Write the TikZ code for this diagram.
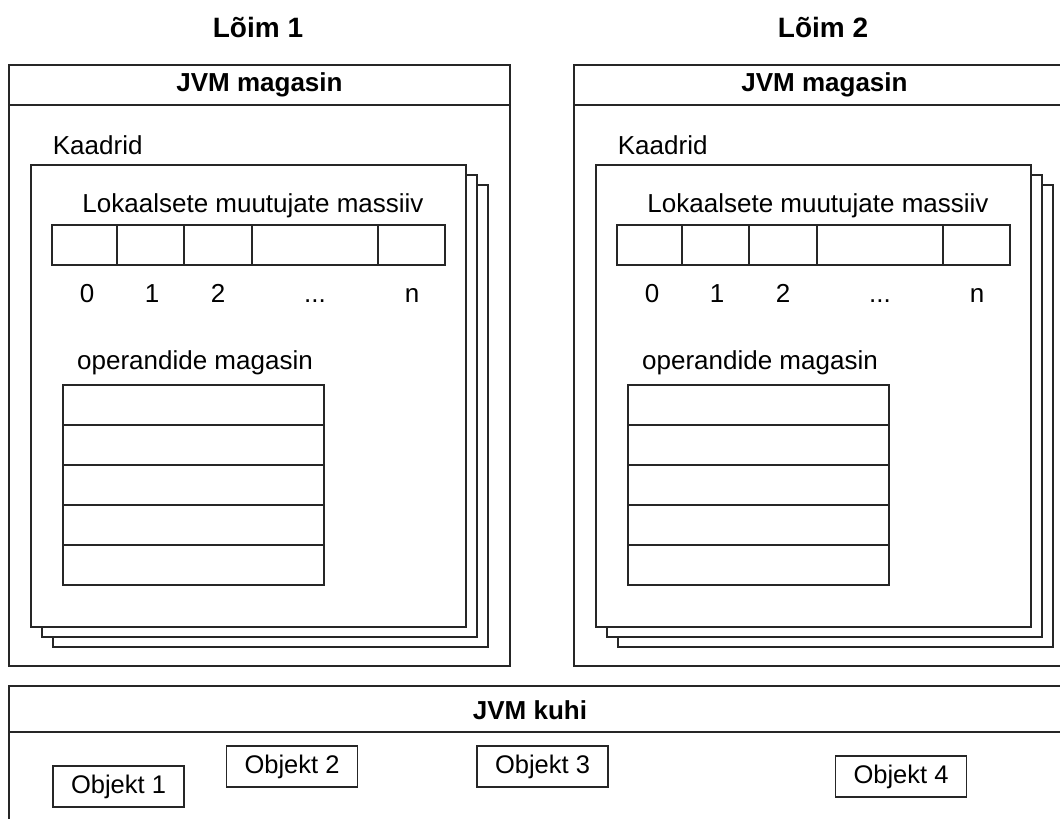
\documentclass[tikz,border=0pt]{standalone}
\usepackage{fontspec}
\setmainfont{Liberation Sans}
\begin{document}
\begin{tikzpicture}[x=1pt,y=-1pt,
  line width=1.8pt,
  box/.style={draw=black!85, fill=white, line width=1.8pt},
  lbl/.style={inner sep=0pt, font=\fontsize{26}{31}\selectfont},
  hdr/.style={inner sep=0pt, font=\fontsize{26}{31}\selectfont\bfseries},
  ttl/.style={inner sep=0pt, font=\fontsize{28}{33}\selectfont\bfseries},
  obj/.style={draw=black!85, line width=1.8pt, fill=white, minimum width=131pt,
    minimum height=41pt, inner sep=0pt, font=\fontsize{25.5}{30}\selectfont}
]
\useasboundingbox (0,0) rectangle (1060,819);
\begin{scope}
\clip (0,0) rectangle (1060,819);

% two threads, each with its own JVM stack
\foreach \dx/\t in {0/1, 565/2} {
  \begin{scope}[xshift=\dx]
    \node[ttl] (title\t) at (258,27) {Lõim \t};
    % stack container with header
    \draw[box] (9,65) rectangle (510,666);
    \draw[black!85] (9,105) -- (510,105);
    \node[hdr] (stackhdr\t) at (259.5,85) {JVM magasin};
    \node[lbl, anchor=west] (frames\t) at (52,145) {Kaadrid};
    % stacked frames, back to front
    \draw[box] (53,185) rectangle (488,647);
    \draw[box] (42,175) rectangle (477,637);
    \draw[box] (31,165) rectangle (466,627);
    % local variable array
    \node[lbl] (lvtitle\t) at (253,206) {Lokaalsete muutujate massiiv};
    \draw[box] (52,225) rectangle (445,265);
    \foreach \xx in {117,184,252,378} \draw[black!85] (\xx,225) -- (\xx,265);
    \foreach \xx/\s in {87/0,152/1,218/2,412/n}
      \node[lbl, anchor=base] at (\xx,302) {\s};
    \node[lbl, anchor=base] at (315,302) {...};
    % operand stack
    \node[lbl] (opstitle\t) at (195,363) {operandide magasin};
    \draw[box] (63,385) rectangle (324,585);
    \foreach \yy in {425,465,505,545} \draw[black!85] (63,\yy) -- (324,\yy);
  \end{scope}
}

% shared heap
\draw[box] (9,686) rectangle (1080,840);
\draw[black!85] (9,732) -- (1080,732);
\node[hdr] (heaphdr) at (530,710) {JVM kuhi};
\node[obj] (o1) at (118.5,786.5) {Objekt 1};
\node[obj] (o2) at (292,766.5) {Objekt 2};
\node[obj] (o3) at (542.5,766.5) {Objekt 3};
\node[obj] (o4) at (901,776.5) {Objekt 4};
\end{scope}
\end{tikzpicture}
\end{document}
